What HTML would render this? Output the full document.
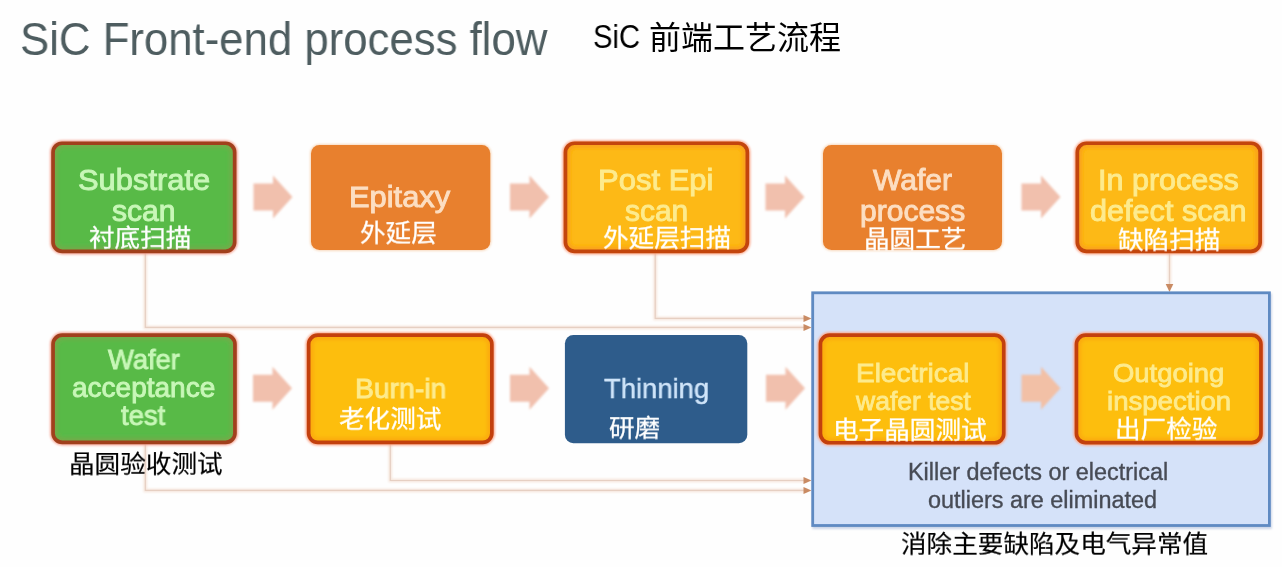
<!DOCTYPE html>
<html lang="zh-CN">
<head>
<meta charset="utf-8">
<title>SiC Front-end process flow</title>
<style>
html,body{margin:0;padding:0;}
body{width:1282px;height:567px;position:relative;overflow:hidden;background:#fefefe;font-family:"Liberation Sans","Noto Sans CJK SC",sans-serif;}
svg.layer{position:absolute;left:0;top:0;width:1282px;height:567px;}
.l,.c{position:absolute;white-space:nowrap;line-height:1;transform-origin:0 0;will-change:transform;}
</style>
</head>
<body>
<svg class="layer" viewBox="0 0 1282 567">
<defs>
<filter id="b1" x="-10%" y="-10%" width="120%" height="120%"><feGaussianBlur stdDeviation="1.3"/></filter>
<filter id="b2" x="-10%" y="-10%" width="120%" height="120%"><feGaussianBlur stdDeviation="2"/></filter>
<filter id="b05" x="-10%" y="-10%" width="120%" height="120%"><feGaussianBlur stdDeviation="0.7"/></filter>
<filter id="b07" x="-20%" y="-20%" width="140%" height="140%"><feGaussianBlur stdDeviation="1.0"/></filter>
<path id="arw" d="M0 8 H19.5 V0 L39 21.500 L19.5 43 V35 H0Z"/>
</defs>
<g fill="none" stroke="#f6e6dc" stroke-width="3.5" filter="url(#b07)">
<path d="M145.3 252 V327.400 H806"/>
<path d="M655.2 252 V318.4 H806"/>
<path d="M145.3 443 V490.4 H806"/>
<path d="M390.3 443 V480.500 H806"/>
<path d="M1169.500 252 V287"/>
</g>
<g fill="none" stroke="#e6cfc2" stroke-width="1.2" filter="url(#b05)">
<path d="M145.3 252 V327.400 H806"/>
<path d="M655.2 252 V318.4 H806"/>
<path d="M145.3 443 V490.4 H806"/>
<path d="M390.3 443 V480.500 H806"/>
<path d="M1169.500 252 V287"/>
</g>
<g fill="#c98b64" filter="url(#b05)">
<path d="M803.500 314.9 L811.500 318.4 L803.500 321.9Z"/>
<path d="M803.500 323.9 L811.500 327.4 L803.500 330.9Z"/>
<path d="M803.500 477 L811.500 480.5 L803.500 484Z"/>
<path d="M803.500 486.9 L811.500 490.4 L803.500 493.9Z"/>
<path d="M1165.700 284 L1169.500 292 L1173.300 284Z"/>
</g>
<rect x="812.3" y="293.4" width="459.5" height="235.5" fill="#c9d3e6" filter="url(#b1)"/>
<rect x="812.7" y="292.8" width="456.7" height="232.7" fill="#d5e2f9" stroke="#5f8ac2" stroke-width="2.8" filter="url(#b05)"/>
<clipPath id="c0"><rect x="52.2" y="142.4" width="183.3" height="109.8" rx="10"/></clipPath>
<rect x="51.2" y="141.4" width="185.3" height="111.8" rx="11" fill="#f6a99a" stroke="#f6a99a" stroke-width="2.500" filter="url(#b1)"/>
<g filter="url(#b05)">
<rect x="52.2" y="142.4" width="183.3" height="109.8" rx="10" fill="#58ba47"/>
<g clip-path="url(#c0)"><rect x="54.9" y="145.1" width="177.9" height="104.4" rx="7.3" fill="none" stroke="#7fa64a" stroke-width="4" filter="url(#b2)"/></g>
<rect x="53.05" y="143.25" width="181.6" height="108.1" rx="9.15" fill="none" stroke="#a1401f" stroke-width="3.7"/>
</g>
<rect x="311" y="145" width="179.3" height="105.1" rx="8.5" fill="#f8d9bd" stroke="#f8d9bd" stroke-width="2" filter="url(#b1)"/>
<rect x="311" y="145" width="179.3" height="105.1" rx="8.5" fill="#e8802f" filter="url(#b05)"/>
<clipPath id="c2"><rect x="564.6" y="142.4" width="183.6" height="109.8" rx="10"/></clipPath>
<rect x="563.6" y="141.4" width="185.6" height="111.8" rx="11" fill="#fbaa90" stroke="#fbaa90" stroke-width="2.500" filter="url(#b1)"/>
<g filter="url(#b05)">
<rect x="564.6" y="142.4" width="183.6" height="109.8" rx="10" fill="#fdb913"/>
<g clip-path="url(#c2)"><rect x="567.3" y="145.1" width="178.2" height="104.4" rx="7.3" fill="none" stroke="#f9981c" stroke-width="4" filter="url(#b2)"/></g>
<rect x="565.45" y="143.25" width="181.9" height="108.1" rx="9.15" fill="none" stroke="#c3440d" stroke-width="3.7"/>
</g>
<rect x="823" y="145" width="179" height="105.1" rx="8.5" fill="#f8d9bd" stroke="#f8d9bd" stroke-width="2" filter="url(#b1)"/>
<rect x="823" y="145" width="179" height="105.1" rx="8.5" fill="#e8802f" filter="url(#b05)"/>
<clipPath id="c4"><rect x="1076.5" y="142.4" width="184.5" height="109.8" rx="10"/></clipPath>
<rect x="1075.5" y="141.4" width="186.5" height="111.8" rx="11" fill="#fbaa90" stroke="#fbaa90" stroke-width="2.500" filter="url(#b1)"/>
<g filter="url(#b05)">
<rect x="1076.5" y="142.4" width="184.5" height="109.8" rx="10" fill="#fdb913"/>
<g clip-path="url(#c4)"><rect x="1079.2" y="145.1" width="179.1" height="104.4" rx="7.3" fill="none" stroke="#f9981c" stroke-width="4" filter="url(#b2)"/></g>
<rect x="1077.35" y="143.25" width="182.8" height="108.1" rx="9.15" fill="none" stroke="#c3440d" stroke-width="3.7"/>
</g>
<clipPath id="c5"><rect x="52.2" y="334.3" width="183.6" height="108.9" rx="10"/></clipPath>
<rect x="51.2" y="333.3" width="185.6" height="110.9" rx="11" fill="#f6a99a" stroke="#f6a99a" stroke-width="2.500" filter="url(#b1)"/>
<g filter="url(#b05)">
<rect x="52.2" y="334.3" width="183.6" height="108.9" rx="10" fill="#58ba47"/>
<g clip-path="url(#c5)"><rect x="54.9" y="337" width="178.2" height="103.5" rx="7.3" fill="none" stroke="#7fa64a" stroke-width="4" filter="url(#b2)"/></g>
<rect x="53.05" y="335.15" width="181.9" height="107.2" rx="9.15" fill="none" stroke="#a1401f" stroke-width="3.7"/>
</g>
<clipPath id="c6"><rect x="307.8" y="334.3" width="184.9" height="109" rx="10"/></clipPath>
<rect x="306.8" y="333.3" width="186.9" height="111" rx="11" fill="#fbaa90" stroke="#fbaa90" stroke-width="2.500" filter="url(#b1)"/>
<g filter="url(#b05)">
<rect x="307.8" y="334.3" width="184.9" height="109" rx="10" fill="#fdbe0b"/>
<g clip-path="url(#c6)"><rect x="310.5" y="337" width="179.5" height="103.6" rx="7.3" fill="none" stroke="#fba318" stroke-width="4" filter="url(#b2)"/></g>
<rect x="308.65" y="335.15" width="183.2" height="107.3" rx="9.15" fill="none" stroke="#c3400d" stroke-width="3.7"/>
</g>
<rect x="564.9" y="335" width="182.4" height="108.2" rx="8.5" fill="#2d5c8b" filter="url(#b05)"/>
<clipPath id="c8"><rect x="819.6" y="334.3" width="185" height="109.3" rx="10"/></clipPath>
<rect x="818.6" y="333.3" width="187" height="111.3" rx="11" fill="#fbaa90" stroke="#fbaa90" stroke-width="2.500" filter="url(#b1)"/>
<g filter="url(#b05)">
<rect x="819.6" y="334.3" width="185" height="109.3" rx="10" fill="#fdbe0b"/>
<g clip-path="url(#c8)"><rect x="822.3" y="337" width="179.6" height="103.9" rx="7.3" fill="none" stroke="#fba318" stroke-width="4" filter="url(#b2)"/></g>
<rect x="820.45" y="335.15" width="183.3" height="107.6" rx="9.15" fill="none" stroke="#c3400d" stroke-width="3.7"/>
</g>
<clipPath id="c9"><rect x="1075.6" y="334.3" width="186.2" height="109.1" rx="10"/></clipPath>
<rect x="1074.6" y="333.3" width="188.2" height="111.1" rx="11" fill="#fbaa90" stroke="#fbaa90" stroke-width="2.500" filter="url(#b1)"/>
<g filter="url(#b05)">
<rect x="1075.6" y="334.3" width="186.2" height="109.1" rx="10" fill="#fdbe0b"/>
<g clip-path="url(#c9)"><rect x="1078.3" y="337" width="180.8" height="103.7" rx="7.3" fill="none" stroke="#fba318" stroke-width="4" filter="url(#b2)"/></g>
<rect x="1076.45" y="335.15" width="184.5" height="107.4" rx="9.15" fill="none" stroke="#c3400d" stroke-width="3.7"/>
</g>
<g fill="#f1c0ad" filter="url(#b07)">
<use href="#arw" x="253.5" y="175.5"/>
<use href="#arw" x="510" y="175.5"/>
<use href="#arw" x="765.5" y="175.5"/>
<use href="#arw" x="1021.5" y="175.5"/>
<use href="#arw" x="253" y="366.8"/>
<use href="#arw" x="510" y="366.8"/>
<use href="#arw" x="766" y="366.8"/>
</g>
<g fill="#f2c0a6" filter="url(#b07)"><use href="#arw" x="1021.500" y="366.800"/></g>
</svg>
<div class="l" style="left:20.01px;top:16.3px;font-size:46.4px;transform:scaleX(0.9425);color:#4e5d60;filter:blur(0.55px);">SiC Front-end process flow</div>
<div class="l" style="left:593.33px;top:19.6px;font-size:33.5px;transform:scaleX(0.8728);color:#000;">SiC</div>
<div class="l" style="left:77.89px;top:166px;font-size:29px;transform:scaleX(1.0648);color:#c8f7b8;filter:blur(0.55px);-webkit-text-stroke:0.9px #c8f7b8;">Substrate</div>
<div class="l" style="left:112.45px;top:197px;font-size:29px;transform:scaleX(1.0378);color:#c8f7b8;filter:blur(0.55px);-webkit-text-stroke:0.9px #c8f7b8;">scan</div>
<div class="l" style="left:348.92px;top:182.6px;font-size:29px;transform:scaleX(1.0641);color:#fcdec2;filter:blur(0.55px);-webkit-text-stroke:0.9px #fcdec2;">Epitaxy</div>
<div class="l" style="left:598.41px;top:166px;font-size:29px;transform:scaleX(1.0693);color:#fdeb8e;filter:blur(0.55px);-webkit-text-stroke:0.9px #fdeb8e;">Post Epi</div>
<div class="l" style="left:624.85px;top:197px;font-size:29px;transform:scaleX(1.0328);color:#fdeb8e;filter:blur(0.55px);-webkit-text-stroke:0.9px #fdeb8e;">scan</div>
<div class="l" style="left:872.95px;top:166px;font-size:29px;transform:scaleX(1.0364);color:#fcdec2;filter:blur(0.55px);-webkit-text-stroke:0.9px #fcdec2;">Wafer</div>
<div class="l" style="left:860.31px;top:196.7px;font-size:29px;transform:scaleX(1.0356);color:#fcdec2;filter:blur(0.55px);-webkit-text-stroke:0.9px #fcdec2;">process</div>
<div class="l" style="left:1098.24px;top:166px;font-size:29px;transform:scaleX(1.0527);color:#fdeb8e;filter:blur(0.55px);-webkit-text-stroke:0.9px #fdeb8e;">In process</div>
<div class="l" style="left:1090.49px;top:197px;font-size:29px;transform:scaleX(1.0555);color:#fdeb8e;filter:blur(0.55px);-webkit-text-stroke:0.9px #fdeb8e;">defect scan</div>
<div class="l" style="left:108.15px;top:345.7px;font-size:28px;transform:scaleX(0.9753);color:#c8f7b8;filter:blur(0.55px);-webkit-text-stroke:0.9px #c8f7b8;">Wafer</div>
<div class="l" style="left:71.95px;top:373.7px;font-size:28px;transform:scaleX(0.9990);color:#c8f7b8;filter:blur(0.55px);-webkit-text-stroke:0.9px #c8f7b8;">acceptance</div>
<div class="l" style="left:121.35px;top:402.2px;font-size:28px;transform:scaleX(0.9834);color:#c8f7b8;filter:blur(0.55px);-webkit-text-stroke:0.9px #c8f7b8;">test</div>
<div class="l" style="left:354.56px;top:373.8px;font-size:28.5px;transform:scaleX(0.9941);color:#fdeb8e;filter:blur(0.55px);-webkit-text-stroke:0.9px #fdeb8e;">Burn-in</div>
<div class="l" style="left:604.12px;top:373.8px;font-size:28.5px;transform:scaleX(0.9620);color:#cfe4f9;filter:blur(0.55px);-webkit-text-stroke:0.45px #cfe4f9;">Thinning</div>
<div class="l" style="left:855.69px;top:360px;font-size:26.5px;transform:scaleX(1.0553);color:#fdeb8e;filter:blur(0.55px);-webkit-text-stroke:0.8px #fdeb8e;">Electrical</div>
<div class="l" style="left:855.8px;top:387.6px;font-size:26.5px;transform:scaleX(0.9990);color:#fdeb8e;filter:blur(0.55px);-webkit-text-stroke:0.8px #fdeb8e;">wafer test</div>
<div class="l" style="left:1112.67px;top:360px;font-size:26.5px;transform:scaleX(1.0348);color:#fdeb8e;filter:blur(0.55px);-webkit-text-stroke:0.8px #fdeb8e;">Outgoing</div>
<div class="l" style="left:1106.66px;top:387.6px;font-size:26.5px;transform:scaleX(1.0409);color:#fdeb8e;filter:blur(0.55px);-webkit-text-stroke:0.8px #fdeb8e;">inspection</div>
<div class="l" style="left:907.86px;top:461.4px;font-size:23px;transform:scaleX(1.0178);color:#474b55;filter:blur(0.5px);-webkit-text-stroke:0.35px #474b55;">Killer defects or electrical</div>
<div class="l" style="left:927.77px;top:488.7px;font-size:23px;transform:scaleX(1.0176);color:#474b55;filter:blur(0.5px);-webkit-text-stroke:0.35px #474b55;">outliers are eliminated</div>
<div class="c" style="left:649.45px;top:22px;font-size:32px;color:#000;">前端工艺流程</div>
<div class="c" style="left:89.35px;top:227.05px;font-size:25.6px;color:#fff;transform:scaleY(0.94);-webkit-text-stroke:0.3px #fff;">衬底扫描</div>
<div class="c" style="left:360.2px;top:221.8px;font-size:25.6px;color:#fff;transform:scaleY(0.94);-webkit-text-stroke:0.3px #fff;">外延层</div>
<div class="c" style="left:603.25px;top:227.2px;font-size:25.6px;color:#fff;transform:scaleY(0.94);-webkit-text-stroke:0.3px #fff;">外延层扫描</div>
<div class="c" style="left:864.15px;top:228.35px;font-size:25.6px;color:#fff;transform:scaleY(0.94);-webkit-text-stroke:0.3px #fff;">晶圆工艺</div>
<div class="c" style="left:1118.4px;top:229px;font-size:25.6px;color:#fff;transform:scaleY(0.94);-webkit-text-stroke:0.3px #fff;">缺陷扫描</div>
<div class="c" style="left:68.7px;top:453px;font-size:25.6px;color:#000;transform:scaleY(0.94);-webkit-text-stroke:0.2px #000;">晶圆验收测试</div>
<div class="c" style="left:338.8px;top:407.85px;font-size:25.6px;color:#fff;transform:scaleY(0.94);-webkit-text-stroke:0.3px #fff;">老化测试</div>
<div class="c" style="left:608.8px;top:416.85px;font-size:25.6px;color:#fff;transform:scaleY(0.94);-webkit-text-stroke:0.3px #fff;">研磨</div>
<div class="c" style="left:833.2px;top:419.25px;font-size:25.6px;color:#fff;transform:scaleY(0.94);-webkit-text-stroke:0.3px #fff;">电子晶圆测试</div>
<div class="c" style="left:1115.3px;top:418.1px;font-size:25.6px;color:#fff;transform:scaleY(0.94);-webkit-text-stroke:0.3px #fff;">出厂检验</div>
<div class="c" style="left:900.7px;top:533.45px;font-size:25.6px;color:#000;transform:scaleY(0.94);-webkit-text-stroke:0.2px #000;">消除主要缺陷及电气异常值</div>
</body>
</html>
